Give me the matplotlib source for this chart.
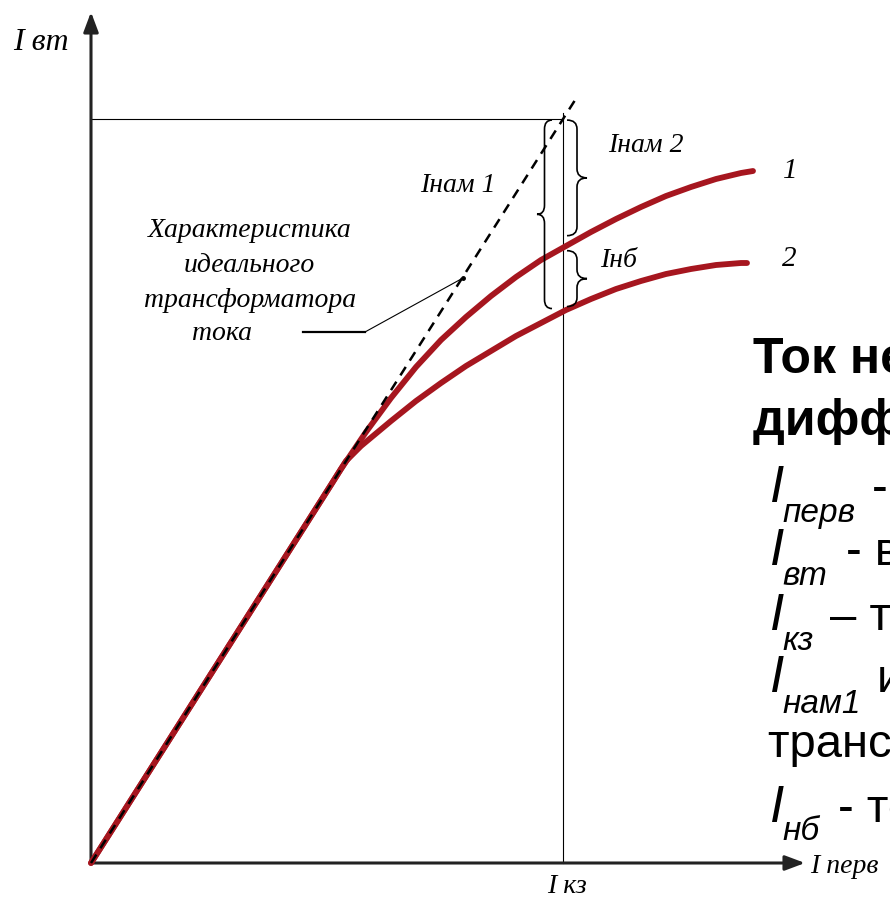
import numpy as np
import matplotlib.pyplot as plt
from matplotlib.path import Path
from matplotlib.patches import PathPatch

# ---- data (arbitrary units, origin at the axes corner) ----
ideal_x = [0, 486]
ideal_y = [0, 766]

ct1_x = [0, 240, 250, 275, 300, 325, 350, 375, 400, 425, 450, 475, 500, 525, 550, 575, 600, 625, 650, 662]
ct1_y = [0, 378, 394, 431, 465, 496, 523, 546, 567, 586, 603, 617, 631, 644, 656, 667, 676, 684, 690, 692]

ct2_x = [0, 255, 270, 300, 325, 350, 375, 400, 425, 450, 475, 500, 525, 550, 575, 600, 625, 650, 656]
ct2_y = [0, 402, 417, 442, 462, 480, 497, 512, 527, 540, 553, 564, 574, 582, 589, 594, 598, 600, 600]

i_kz = 472

RED = '#a6161f'
SERIF = 'Liberation Serif'
SANS = 'Liberation Sans'

fig = plt.figure(figsize=(8.9, 9.09), dpi=100)
ax = fig.add_axes([0, 0, 1, 1])
ax.set_xlim(-91, 799)
ax.set_ylim(-46, 863)
ax.axis('off')

# values at the short-circuit current
top = np.interp(i_kz, ideal_x, ideal_y)
v1 = np.interp(i_kz, ct1_x, ct1_y)
v2 = np.interp(i_kz, ct2_x, ct2_y)

# axes with arrows
arw = dict(arrowstyle='-|>,head_length=1.2,head_width=0.45', mutation_scale=10,
           lw=2.2, color='#222222', shrinkA=0, shrinkB=0)
ax.annotate('', xy=(0, 851), xytext=(0, 0), arrowprops=arw)
ax.annotate('', xy=(714, 0), xytext=(0, 0), arrowprops=arw)

# reference lines
ax.plot([0, i_kz], [top, top], color='black', lw=0.8)
ax.plot([i_kz, i_kz], [0, top + 6], color='black', lw=0.8)

# curves
ax.plot(ct1_x, ct1_y, color=RED, lw=4.2, solid_capstyle='round', solid_joinstyle='round', zorder=3)
ax.plot(ct2_x, ct2_y, color=RED, lw=4.2, solid_capstyle='round', solid_joinstyle='round', zorder=3)
ax.plot(ideal_x, ideal_y, color='black', lw=1.8, dashes=[4, 3], zorder=4)


def brace(x, y0, y1, w, c=9):
    ym = (y0 + y1) / 2
    h = x + w / 2
    verts = [(x, y1), (h, y1), (h, y1 - c), (h, ym + c), (h, ym), (x + w, ym),
             (h, ym), (h, ym - c), (h, y0 + c), (h, y0), (x, y0)]
    codes = [Path.MOVETO, Path.CURVE3, Path.CURVE3, Path.LINETO, Path.CURVE3, Path.CURVE3,
             Path.CURVE3, Path.CURVE3, Path.LINETO, Path.CURVE3, Path.CURVE3]
    ax.add_patch(PathPatch(Path(verts, codes), fill=False, lw=1.2, color='black', zorder=5))


brace(i_kz - 11, v2 + 3, top - 1, -15)
brace(i_kz + 4, v1 + 12, top - 1, 20)
brace(i_kz + 4, v2 + 5, v1 - 3, 20)

# leader line to the ideal characteristic
ax.plot([212, 274], [531, 531], color='black', lw=1.6)
ax.plot([274, 372], [531, 585], color='black', lw=0.8)
ax.plot([372], [585], 'o', color='black', ms=2.5)

# serif labels on the drawing
it = dict(family=SERIF, style='italic', va='baseline')
ax.text(-78, 813, 'I вт', fontsize=23, **it)
ax.text(719, -10, 'I перв', fontsize=20, **it)
ax.text(476, -30, 'I кз', fontsize=20, ha='center', **it)
ax.text(329, 671, 'Iнам 1', fontsize=20, **it)
ax.text(517, 711, 'Iнам 2', fontsize=20, **it)
ax.text(509, 596, 'Iнб', fontsize=20, **it)
ax.text(699, 685, '1', fontsize=21, ha='center', **it)
ax.text(698, 597, '2', fontsize=21, ha='center', **it)
ax.text(159, 626, 'Характеристика', fontsize=20, ha='center', **it)
ax.text(158, 591, 'идеального', fontsize=20, ha='center', **it)
ax.text(159, 556, 'трансформатора', fontsize=20, ha='center', **it)
ax.text(131, 523, 'тока', fontsize=20, ha='center', **it)

# explanation text on the right (runs off the slide edge)
ax.text(662, 490, 'Ток небаланса в', fontsize=36, fontweight='bold', family=SANS, va='baseline')
ax.text(662, 428, 'дифференциальной защите', fontsize=36, fontweight='bold', family=SANS, va='baseline')

legend_subs = ['перв', 'вт', 'кз', 'нам1', 'нб']
legend_tails = ['- первичный ток', '- вторичный ток', '– ток короткого замыкания',
                'и I нам2 - токи намагничивания', '- ток небаланса']
i_base = [361, 298, 233, 171, 41]
sub_base = [341, 278, 213, 150, 23]
tail_x = [781, 755, 739, 786, 747]

for s, t, yb, ys, xt in zip(legend_subs, legend_tails, i_base, sub_base, tail_x):
    ax.text(679, yb, 'I', fontsize=37, style='italic', family=SANS, va='baseline')
    ax.text(691, ys, s, fontsize=24, style='italic', family=SANS, va='baseline')
    ax.text(xt, yb, t, fontsize=34, family=SANS, va='baseline')
ax.text(677, 106, 'трансформаторов тока', fontsize=34, family=SANS, va='baseline')

fig.savefig('out.png', dpi=100)
